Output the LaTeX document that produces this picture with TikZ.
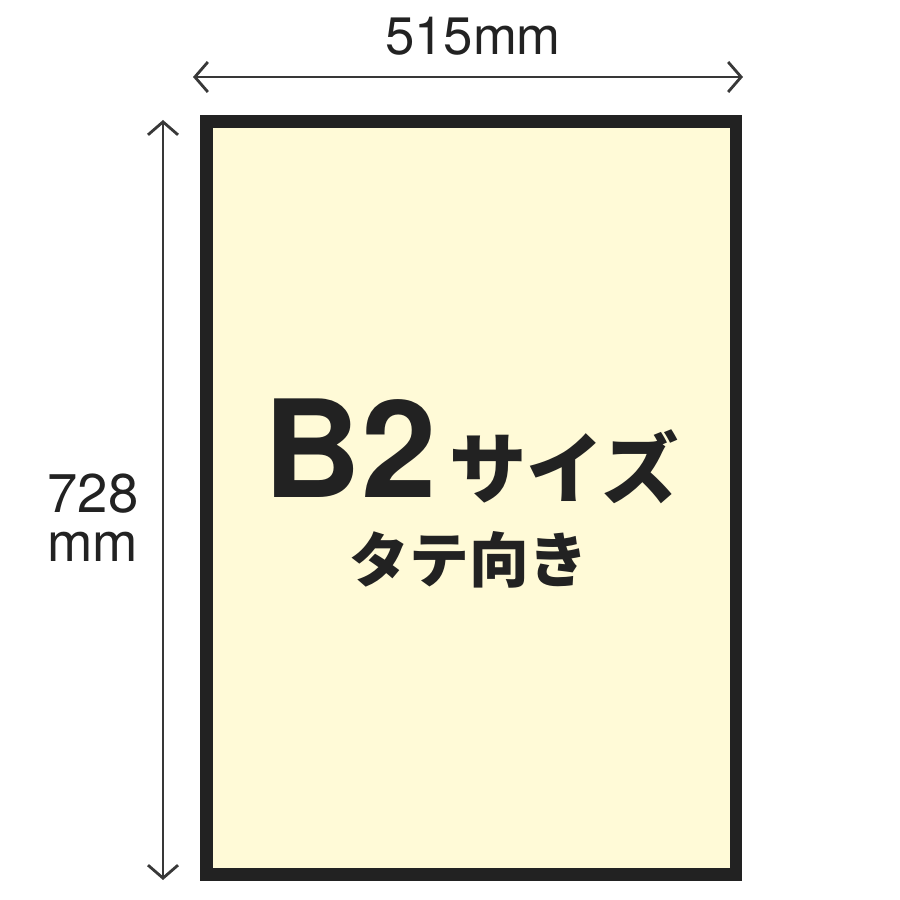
\documentclass[tikz,border=0pt]{standalone}
\usepackage{fontspec}
\setmainfont{TeX Gyre Heros}
\newfontfamily\jpfont{Noto Sans CJK JP}
\usetikzlibrary{arrows.meta}
\definecolor{paper}{HTML}{FFFAD7}
\definecolor{ink}{HTML}{222222}

\begin{document}
\begin{tikzpicture}[dim/.style={{Straight Barb[length=1.3mm,width=3mm]}-{Straight Barb[length=1.3mm,width=3mm]},
	line width=0.8pt,draw=ink!90},
	every node/.style={text=ink,inner sep=0pt}]
	\useasboundingbox (0,0) rectangle (9,9);
	% sheet
	\coordinate (tl) at (2.065,7.785);
	\coordinate (br) at (7.36,0.255);
	\draw[ink,fill=paper,line width=3.5pt] (tl) rectangle (br);
	% dimension arrows
	\coordinate (wl) at (1.93,8.23);
	\coordinate (wr) at (7.43,8.23);
	\coordinate (ht) at (1.63,7.80);
	\coordinate (hb) at (1.63,0.20);
	\draw[dim] (wl) -- (wr);
	\draw[dim] (ht) -- (hb);
	% labels
	\node[anchor=base] (width) at (4.73,8.45) {\fontsize{15}{15}\selectfont 515mm};
	\node[anchor=base,align=center,font=\fontsize{15.5}{14}\selectfont] (height) at (0.93,3.38) {728\\mm};
	\node[anchor=base] (size) at (4.715,4.02)
		{\bfseries\fontsize{38.5}{38.5}\selectfont B2\jpfont\fontsize{22}{22}\selectfont\,サイズ};
	\node (orient) at (4.69,3.40) {\jpfont\bfseries\fontsize{17}{17}\selectfont タテ向き};
\end{tikzpicture}
\end{document}
